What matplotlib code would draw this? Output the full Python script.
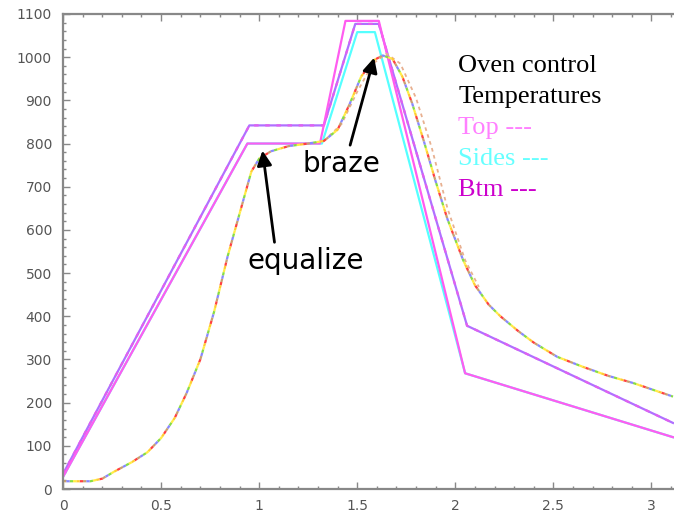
import matplotlib.pyplot as plt
from matplotlib.ticker import MultipleLocator

# oven control set points (time, temperature)
top_t = [0, 0.94, 1.31, 1.44, 1.61, 2.05, 3.11]
top_T = [28, 800, 800, 1084, 1084, 268, 120]

sides_t = [0, 0.94, 1.32, 1.50, 1.59, 2.05, 3.11]
sides_T = [28, 800, 800, 1058, 1058, 268, 120]

btm_t = [0, 0.95, 1.33, 1.49, 1.61, 2.06, 3.11]
btm_T = [35, 842, 842, 1077, 1077, 378, 153]

# measured part temperatures (thermocouples overlap)
prod_t = [0, 0.14, 0.20, 0.26, 0.35, 0.43, 0.50, 0.57, 0.63, 0.70, 0.77, 0.84,
          0.92, 0.96, 1.00, 1.06, 1.15, 1.25, 1.33, 1.40, 1.46, 1.52, 1.58,
          1.63, 1.68, 1.73, 1.78, 1.84, 1.90, 1.96, 2.04, 2.10, 2.17, 2.23,
          2.32, 2.40, 2.52, 2.65, 2.78, 2.91, 3.00, 3.11]
prod_T = [18, 18, 24, 40, 62, 85, 118, 165, 222, 300, 410, 540,
          670, 735, 765, 782, 794, 800, 806, 832, 890, 955, 992,
          1004, 996, 955, 893, 805, 712, 625, 530, 472, 427, 400,
          366, 339, 306, 283, 262, 245, 231, 214]

prod2_t = [1.33, 1.42, 1.50, 1.58, 1.65, 1.72, 1.80, 1.88, 1.96, 2.05, 2.12]
prod2_T = [806, 845, 920, 985, 1008, 985, 905, 790, 650, 530, 468]

fig = plt.figure(figsize=(6.74, 5.12), dpi=100)
ax = fig.add_axes([0.0935, 0.0449, 0.9065, 0.9278])

ax.plot(sides_t, sides_T, color='#55ffff', lw=1.6)
ax.plot(btm_t, btm_T, color='#b070ff', lw=1.6)
ax.plot(btm_t, btm_T, color='#e060f0', lw=1.6, ls=(0, (2, 3)))
ax.plot(top_t, top_T, color='#ff5cf0', lw=1.6)

ax.plot(prod2_t, prod2_T, color='#e8b090', lw=1.3, ls=(0, (2, 2)))
for i, c in enumerate(['#c8a070', '#ff4040', '#ffcc33', '#ffee44', '#88dd44', '#8888ff']):
    ax.plot(prod_t, prod_T, color=c, lw=1.6, ls=(i * 1.5, (1.5, 7.5)))

# annotations
ax.annotate('', xy=(1.015, 790), xytext=(1.08, 565),
            arrowprops=dict(arrowstyle='-|>', color='black', lw=2, mutation_scale=22))
ax.text(1.24, 528, 'equalize', fontsize=20, ha='center', va='center')
ax.annotate('', xy=(1.59, 1005), xytext=(1.46, 790),
            arrowprops=dict(arrowstyle='-|>', color='black', lw=2, mutation_scale=22))
ax.text(1.42, 752, 'braze', fontsize=20, ha='center', va='center')

serif = ['Liberation Serif', 'DejaVu Serif']
legend_rows = [('Oven control', 'black'), ('Temperatures', 'black'),
               ('Top ---', '#ff80ff'), ('Sides ---', '#66ffff'), ('Btm ---', '#cc00cc')]
for k, (txt, c) in enumerate(legend_rows):
    ax.text(2.015, 980 - k * 72, txt, fontsize=19, color=c, family=serif,
            ha='left', va='center')

ax.set_xlim(0, 3.115)
ax.set_ylim(0, 1100)
ax.xaxis.set_major_locator(MultipleLocator(0.5))
ax.xaxis.set_minor_locator(MultipleLocator(0.1))
ax.yaxis.set_major_locator(MultipleLocator(100))
ax.yaxis.set_minor_locator(MultipleLocator(20))
ax.set_xticks([0, 0.5, 1, 1.5, 2, 2.5, 3])
ax.set_xticklabels(['0', '0.5', '1', '1.5', '2', '2.5', '3'])
ax.tick_params(which='both', direction='in', top=True, right=False,
               color='#888888', labelcolor='#555555', labelsize=10)
ax.tick_params(which='major', length=5, width=1)
ax.tick_params(which='minor', length=2.5, width=1)
ax.tick_params(axis='y', pad=8)
ax.tick_params(axis='x', pad=7)
for side in ['left', 'bottom', 'top']:
    ax.spines[side].set_color('#888888')
    ax.spines[side].set_linewidth(1.6)
ax.spines['right'].set_visible(False)

fig.savefig('out.png', dpi=100)
